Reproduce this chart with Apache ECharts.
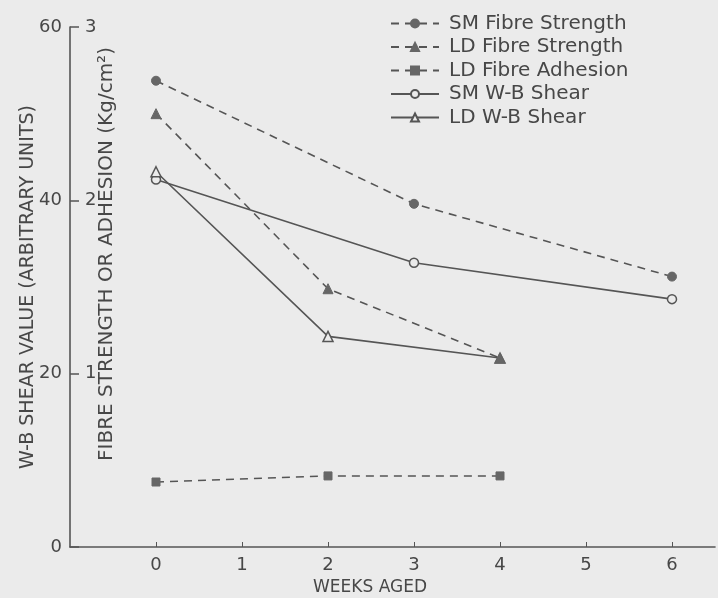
<!DOCTYPE html>
<html><head><meta charset="utf-8">
<script src="https://cdn.jsdelivr.net/npm/echarts@6/dist/echarts.min.js"></script>
<style>html,body{margin:0;padding:0;background:#ebebeb}#c{width:718px;height:598px}</style>
</head><body><div id="c"></div>
<script>
// ---- data ----
const smWeeks = [0, 3, 6];
const ldWeeks = [0, 2, 4];
const smFibreStrength = [2.69, 1.98, 1.56];   // Kg/cm2
const ldFibreStrength = [2.50, 1.49, 1.09];   // Kg/cm2
const ldFibreAdhesion = [0.375, 0.41, 0.41];  // Kg/cm2
const smWBShear = [42.4, 32.8, 28.6];         // arbitrary units
const ldWBShear = [43.3, 24.3, 21.8];         // arbitrary units
const xTicks = [0, 1, 2, 3, 4, 5, 6];
const wbTicks = [0, 20, 40, 60];
const fibreTicks = [1, 2, 3];
const seriesNames = ['SM Fibre Strength', 'LD Fibre Strength', 'LD Fibre Adhesion', 'SM W-B Shear', 'LD W-B Shear'];

const BG = '#ebebeb', INK = '#555', TXT = '#474747';
const FONT = 'DejaVu Sans';
const pairs = (xs, ys) => xs.map((x, i) => [x, ys[i]]);

function mk(name, xs, ys, yIdx, symbol, filled, dashed) {
  return {
    name, type: 'line', yAxisIndex: yIdx, data: pairs(xs, ys),
    symbol, symbolSize: symbol === 'rect' ? 8 : (symbol === 'triangle' ? 10 : 9),
    showSymbol: true,
    lineStyle: { color: INK, width: 1.6, type: dashed ? [8, 6] : 'solid' },
    itemStyle: filled ? { color: '#666', borderColor: '#666', borderWidth: 1 }
                      : { color: BG, borderColor: INK, borderWidth: 1.5 },
    emphasis: { disabled: true }, animation: false, z: filled ? 3 : 2
  };
}

const chart = echarts.init(document.getElementById('c'));
chart.setOption({
  backgroundColor: BG,
  animation: false,
  textStyle: { fontFamily: FONT },
  grid: { left: 70, right: 3, top: 27, bottom: 51, containLabel: false },
  legend: {
    orient: 'vertical', left: 385, top: 7,
    itemWidth: 48, itemHeight: 10, itemGap: 0.5,
    textStyle: { fontFamily: FONT, fontSize: 20, color: TXT, lineHeight: 23, padding: [0, 0, 0, 5] },
    data: seriesNames, selectedMode: false
  },
  xAxis: {
    type: 'value', min: -1, max: 6.5,
    axisLine: { show: true, onZero: false, lineStyle: { color: INK, width: 1.6 } },
    axisTick: { show: true, inside: true, length: 5, lineStyle: { color: INK }, customValues: xTicks },
    axisLabel: { customValues: xTicks, fontSize: 18, color: TXT, margin: 9, fontFamily: FONT },
    splitLine: { show: false }
  },
  yAxis: [
    {
      type: 'value', min: 0, max: 60, interval: 20, position: 'left',
      name: 'W-B SHEAR VALUE (ARBITRARY UNITS)', nameLocation: 'middle', nameGap: 32, nameMoveOverlap: false,
      nameTextStyle: { fontSize: 19, color: TXT, fontFamily: FONT },
      axisLine: { show: true, onZero: false, lineStyle: { color: INK, width: 1.6 } },
      axisTick: { show: true, inside: true, length: 9, lineStyle: { color: INK, width: 1.5 } },
      axisLabel: { fontSize: 18, color: TXT, margin: 8, fontFamily: FONT,
                   formatter: v => wbTicks.includes(v) ? String(v) : '' },
      splitLine: { show: false }
    },
    {
      type: 'value', min: 0, max: 3, interval: 1, position: 'left', offset: 0,
      axisLine: { show: false, onZero: false },
      axisTick: { show: false },
      axisLabel: { inside: true, fontSize: 18, color: TXT, margin: 15, fontFamily: FONT,
                   formatter: v => fibreTicks.includes(v) ? String(v) : '' },
      splitLine: { show: false }
    }
  ],
  graphic: [
    {
      type: 'text', x: 107, y: 254, rotation: Math.PI / 2,
      style: { text: 'FIBRE STRENGTH OR ADHESION (Kg/cm²)', fontSize: 20, fill: TXT, fontFamily: FONT,
               align: 'center', verticalAlign: 'middle' }
    },
    {
      type: 'text', x: 370, y: 588,
      style: { text: 'WEEKS AGED', fontSize: 17, fill: TXT, fontFamily: FONT, align: 'center', verticalAlign: 'middle' }
    }
  ],
  series: [
    mk(seriesNames[0], smWeeks, smFibreStrength, 1, 'circle', true, true),
    mk(seriesNames[1], ldWeeks, ldFibreStrength, 1, 'triangle', true, true),
    mk(seriesNames[2], ldWeeks, ldFibreAdhesion, 1, 'rect', true, true),
    mk(seriesNames[3], smWeeks, smWBShear, 0, 'circle', false, false),
    mk(seriesNames[4], ldWeeks, ldWBShear, 0, 'triangle', false, false)
  ]
});
</script></body></html>
